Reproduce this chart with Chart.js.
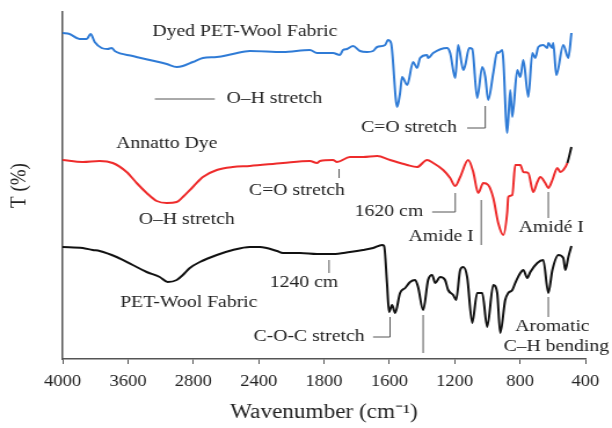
<!DOCTYPE html>
<html>
<head>
<meta charset="utf-8">
<script src="https://cdn.jsdelivr.net/npm/chart.js@4"></script>
<style>
  html, body { margin: 0; padding: 0; background: #fff; }
</style>
</head>
<body>
<!-- the reference is a horizontally stretched picture, so the canvas is stretched too -->
<canvas id="ftir" width="528" height="428" style="display:block;width:612px;height:428px"></canvas>
<script>
// --- Data ---
const tickLabels = ['4000', '3600', '2800', '2400', '1800', '1600', '1200', '800', '400'];

const dyedWave = [4000,3952,3883,3834,3807,3779,3731,3690,3662,3641,3517,3400,3283,3214,3172,3103,3034,2938,2828,2710,2483,2297,2248,2138,2090,2069,2041,2000,1952,1903,1862,1834,1779,1759,1738,1696,1676,1662,1627,1586,1559,1538,1490,1483,1448,1352,1331,1296,1276,1241,1227,1200,1179,1145,1110,1089,1069,1034,1007,1000,972,965,938,917,903,869,848,827,793,765,745,724,690,662,655,627,621,600,552,517,496];
const dyedT = [326,325,320,320,325,317,311,310,311,308,303,299,295,292,293,297,301,302,305,308,307,309,306,306,304,309,310,313,308,307,308,312,314,319,316,252,266,282,274,297,291,301,304,301,306,311,306,281,314,289,294,311,310,261,292,282,259,286,307,306,309,299,226,269,242,289,282,299,262,306,301,312,314,311,316,311,316,284,314,301,326];

const annattoWave = [4000,3862,3745,3655,3559,3490,3421,3352,3283,3214,3172,3103,3034,2938,2828,2710,2483,2297,2248,2228,2138,2110,2021,1931,1834,1745,1627,1559,1490,1448,1379,1331,1296,1262,1207,1172,1138,1103,1069,1034,1000,965,938,931,903,883,848,827,793,759,731,710,676,655,627,593,572,552,524,496];
const annattoT = [199,197,198,196,187,176,166,158,156,157,162,172,182,189,192,193,196,198,196,198,199,197,202,202,203,199,194,192,199,196,189,181,173,182,199,187,166,176,174,161,136,124,147,162,164,194,194,187,186,167,177,182,176,171,179,191,187,189,196,212];

const petWave = [4000,3862,3793,3745,3628,3517,3421,3331,3276,3214,3172,3124,3055,2938,2828,2710,2641,2524,2483,2365,2248,2138,2021,1931,1862,1800,1786,1766,1752,1731,1710,1676,1641,1607,1572,1552,1517,1483,1455,1434,1400,1366,1345,1310,1290,1262,1241,1214,1179,1145,1110,1076,1034,1007,986,952,931,903,883,848,827,800,779,731,690,655,627,586,552,538,517,496];
const petT = [112,111,109,108,102,94,87,82,77,79,84,91,97,104,109,112,112,108,106,106,105,105,107,109,111,114,113,76,47,54,46,66,71,77,79,72,49,79,84,76,82,79,69,64,59,89,92,82,36,66,66,32,74,66,26,59,66,69,76,86,89,81,87,96,99,66,89,104,101,89,102,113];

// --- Peak labels and their pointer lines (in axis units) ---
const annoTexts = [
    ['Dyed PET-Wool Fabric', 2745, 327],
    ['O\u2013H stretch', 2541, 260],
    ['C=O stretch', 1614, 231],
    ['Annatto Dye', 3283, 215],
    ['C=O stretch', 2386, 168],
    ['O\u2013H stretch', 3145, 139],
    ['1620 cm', 1752, 147],
    ['Amide I', 1393, 122],
    ['Amidé I', 634, 131],
    ['1240 cm', 2338, 76],
    ['PET-Wool Fabric', 3131, 56],
    ['C-O-C stretch', 2303, 22],
    ['Aromatic', 627, 32],
    ['C\u2013H bending', 600, 12]
];
const annoLines = [
    [[3365, 260], [2952, 260]],
    [[1089, 253], [1089, 231], [1214, 231]],
    [[2096, 190], [2096, 181]],
    [[1296, 166], [1296, 147], [1455, 147]],
    [[1117, 159], [1117, 114]],
    [[655, 167], [655, 141]],
    [[2165, 99], [2165, 86]],
    [[1745, 42], [1745, 22], [1862, 22]],
    [[1517, 44], [1517, 6]],
    [[655, 62], [655, 42]]
];

const toPoints = (xs, ys) => xs.map((v, i) => ({ x: v, y: ys[i] }));

const peakLabels = {
    id: 'peakLabels',
    afterDatasetsDraw(chart) {
        const { ctx, scales: { x, y } } = chart;
        ctx.save();
        ctx.strokeStyle = '#555';
        ctx.lineWidth = 1;
        annoLines.forEach(pts => {
            ctx.beginPath();
            pts.forEach((p, i) => {
                const px = x.getPixelForValue(p[0]), py = y.getPixelForValue(p[1]);
                if (i) ctx.lineTo(px, py); else ctx.moveTo(px, py);
            });
            ctx.stroke();
        });
        ctx.fillStyle = '#222';
        ctx.font = '17px "Liberation Serif", serif';
        ctx.textAlign = 'center';
        ctx.textBaseline = 'middle';
        annoTexts.forEach(t => ctx.fillText(t[0], x.getPixelForValue(t[1]), y.getPixelForValue(t[2])));
        ctx.restore();
    }
};

const lastRed = annattoWave.length - 1;

new Chart(document.getElementById('ftir'), {
    type: 'line',
    data: {
        datasets: [
            { label: 'Dyed PET-Wool Fabric', data: toPoints(dyedWave, dyedT), borderColor: '#2f7bd6', borderWidth: 2 },
            { label: 'Annatto Dye', data: toPoints(annattoWave, annattoT), borderColor: '#ee2b2b', borderWidth: 2,
              segment: { borderColor: c => c.p1DataIndex === lastRed ? '#111' : undefined } },
            { label: 'PET-Wool Fabric', data: toPoints(petWave, petT), borderColor: '#111', borderWidth: 2 }
        ]
    },
    options: {
        responsive: false,
        animation: false,
        layout: { padding: { top: 12, right: 23, left: 0, bottom: 0 } },
        elements: { point: { radius: 0 }, line: { cubicInterpolationMode: 'monotone', borderJoinStyle: 'round' } },
        plugins: { legend: { display: false }, tooltip: { enabled: false } },
        scales: {
            x: {
                type: 'linear', reverse: true, min: 400, max: 4000,
                afterFit: s => { s.height = 69; },
                border: { display: true, color: '#555', width: 1.5 },
                grid: { display: true, drawOnChartArea: false, drawTicks: true, tickLength: 5, color: '#555' },
                ticks: {
                    stepSize: 450, padding: 8, color: '#222', maxRotation: 0,
                    font: { family: '"Liberation Serif", serif', size: 16 },
                    callback: v => tickLabels[Math.round((4000 - v) / 450)]
                },
                title: {
                    display: true, text: 'Wavenumber (cm\u207B\u00B9)', color: '#222',
                    font: { family: '"Liberation Serif", serif', size: 20 },
                    padding: { top: 0, bottom: 3 }
                }
            },
            y: {
                min: 0, max: 347,
                afterFit: s => { s.width = 54; },
                border: { display: true, color: '#555', width: 1.5 },
                grid: { display: false },
                ticks: { display: false },
                title: {
                    display: true, text: 'T (%)', color: '#222',
                    font: { family: '"Liberation Serif", serif', size: 19 },
                    padding: { top: 6, bottom: 0 }
                }
            }
        }
    },
    plugins: [peakLabels]
});
</script>
</body>
</html>
